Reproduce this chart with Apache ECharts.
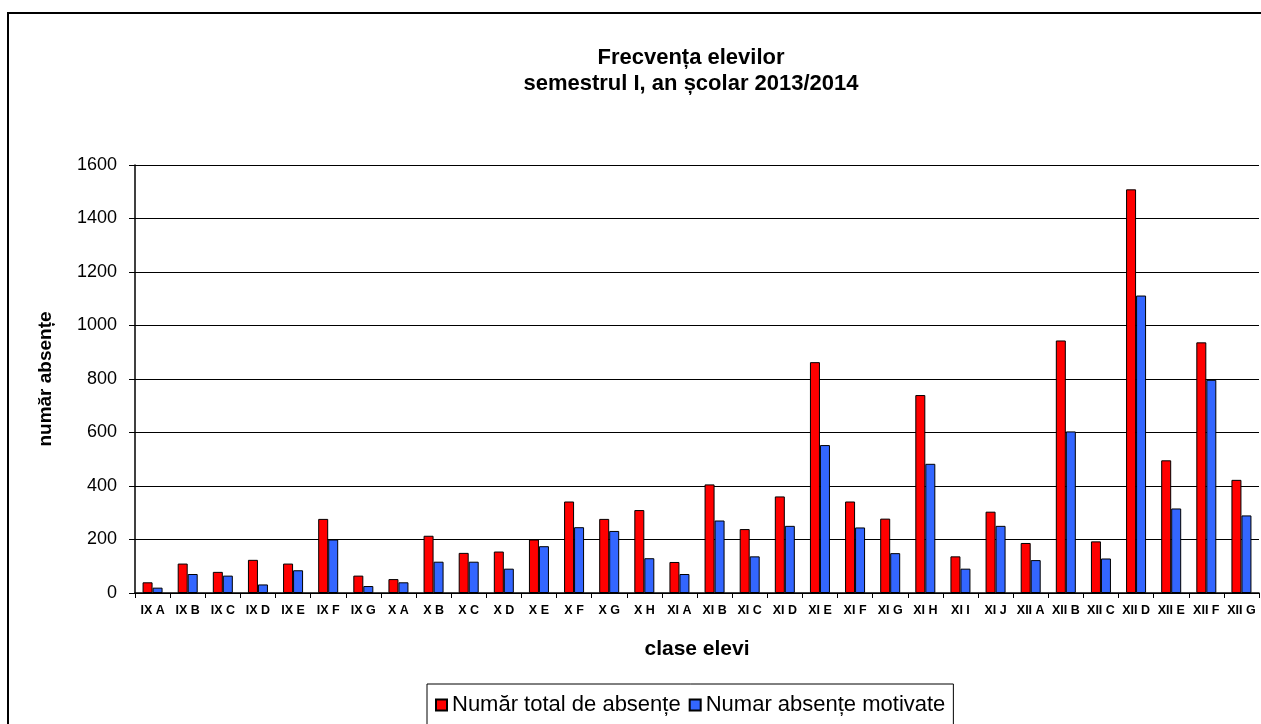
<!DOCTYPE html>
<html lang="ro">
<head>
    <meta charset="UTF-8">
    <title>Frecventa elevilor</title>
    <script src="https://cdn.jsdelivr.net/npm/echarts@6/dist/echarts.min.js"></script>
    <style>
        html, body { margin: 0; padding: 0; background: #fff; }
        #main { width: 1261px; height: 724px; }
    </style>
</head>
<body>
<div id="main"></div>
<script type="text/javascript">
    // clase si valori
    var clase = ['IX A', 'IX B', 'IX C', 'IX D', 'IX E', 'IX F', 'IX G',
        'X A', 'X B', 'X C', 'X D', 'X E', 'X F', 'X G', 'X H',
        'XI A', 'XI B', 'XI C', 'XI D', 'XI E', 'XI F', 'XI G', 'XI H', 'XI I', 'XI J',
        'XII A', 'XII B', 'XII C', 'XII D', 'XII E', 'XII F', 'XII G'];
    var totalAbsente = [40, 110, 79, 124, 110, 277, 65,
        52, 214, 150, 155, 200, 342, 277, 310,
        116, 406, 239, 361, 863, 342, 278, 740, 137, 304,
        187, 944, 193, 1509, 496, 937, 423];
    var absenteMotivate = [20, 71, 65, 32, 85, 200, 26,
        40, 117, 117, 91, 175, 246, 232, 130,
        71, 271, 137, 251, 553, 245, 149, 483, 91, 251,
        123, 604, 129, 1112, 316, 797, 290];
    var numeSerii = ['Număr total de absențe', 'Numar absențe motivate'];

    var font = 'Liberation Sans, Arial, sans-serif';
    var myChart = echarts.init(document.getElementById('main'));

    var option = {
        backgroundColor: '#fff',
        animation: false,
        textStyle: {fontFamily: font, color: '#000'},
        title: {
            text: 'Frecvența elevilor\nsemestrul I, an școlar 2013/2014',
            left: 686,
            textAlign: 'center',
            top: 40,
            textStyle: {fontFamily: font, fontSize: 22, fontWeight: 'bold', color: '#000', lineHeight: 26}
        },
        graphic: [{
            type: 'rect',
            shape: {x: 8, y: 13, width: 1300, height: 800},
            style: {fill: 'none', stroke: '#000', lineWidth: 2},
            silent: true
        }],
        legend: {
            data: numeSerii,
            left: 427,
            top: 684,
            icon: 'rect',
            itemWidth: 11,
            itemHeight: 11,
            itemGap: 8,
            padding: [10, 8, 20, 8],
            borderColor: '#000',
            borderWidth: 1,
            textStyle: {fontFamily: font, fontSize: 22, color: '#000'}
        },
        grid: {left: 135, right: 2, top: 165, bottom: 131},
        xAxis: {
            type: 'category',
            data: clase,
            name: 'clase elevi',
            nameLocation: 'middle',
            nameGap: 46,
            nameTextStyle: {fontFamily: font, fontSize: 21, fontWeight: 'bold', color: '#000'},
            axisLine: {lineStyle: {color: '#000', width: 1.5}},
            axisTick: {show: true, length: 5, lineStyle: {color: '#000'}},
            axisLabel: {interval: 0, fontFamily: font, fontSize: 12.5, fontWeight: 'bold', color: '#000', margin: 11}
        },
        yAxis: {
            type: 'value',
            min: 0,
            max: 1600,
            interval: 200,
            name: 'număr absențe',
            nameLocation: 'middle',
            nameGap: 80,
            nameTextStyle: {fontFamily: font, fontSize: 19, fontWeight: 'bold', color: '#000'},
            axisLine: {show: true, lineStyle: {color: '#000', width: 1.5}},
            axisTick: {show: true, length: 6, lineStyle: {color: '#000'}},
            axisLabel: {
                fontFamily: font, fontSize: 18, color: '#000', margin: 18,
                formatter: function (v) { return String(v); }
            },
            splitLine: {lineStyle: {color: '#000', width: 1.2}}
        },
        series: [
            {
                name: numeSerii[0],
                type: 'bar',
                data: totalAbsente,
                barWidth: 10,
                barGap: '0%',
                itemStyle: {color: '#FF0000', borderColor: '#000', borderWidth: 1}
            },
            {
                name: numeSerii[1],
                type: 'bar',
                data: absenteMotivate,
                barWidth: 10,
                barGap: '0%',
                itemStyle: {color: '#3366FF', borderColor: '#000', borderWidth: 1}
            }
        ]
    };
    myChart.setOption(option);
</script>
</body>
</html>
